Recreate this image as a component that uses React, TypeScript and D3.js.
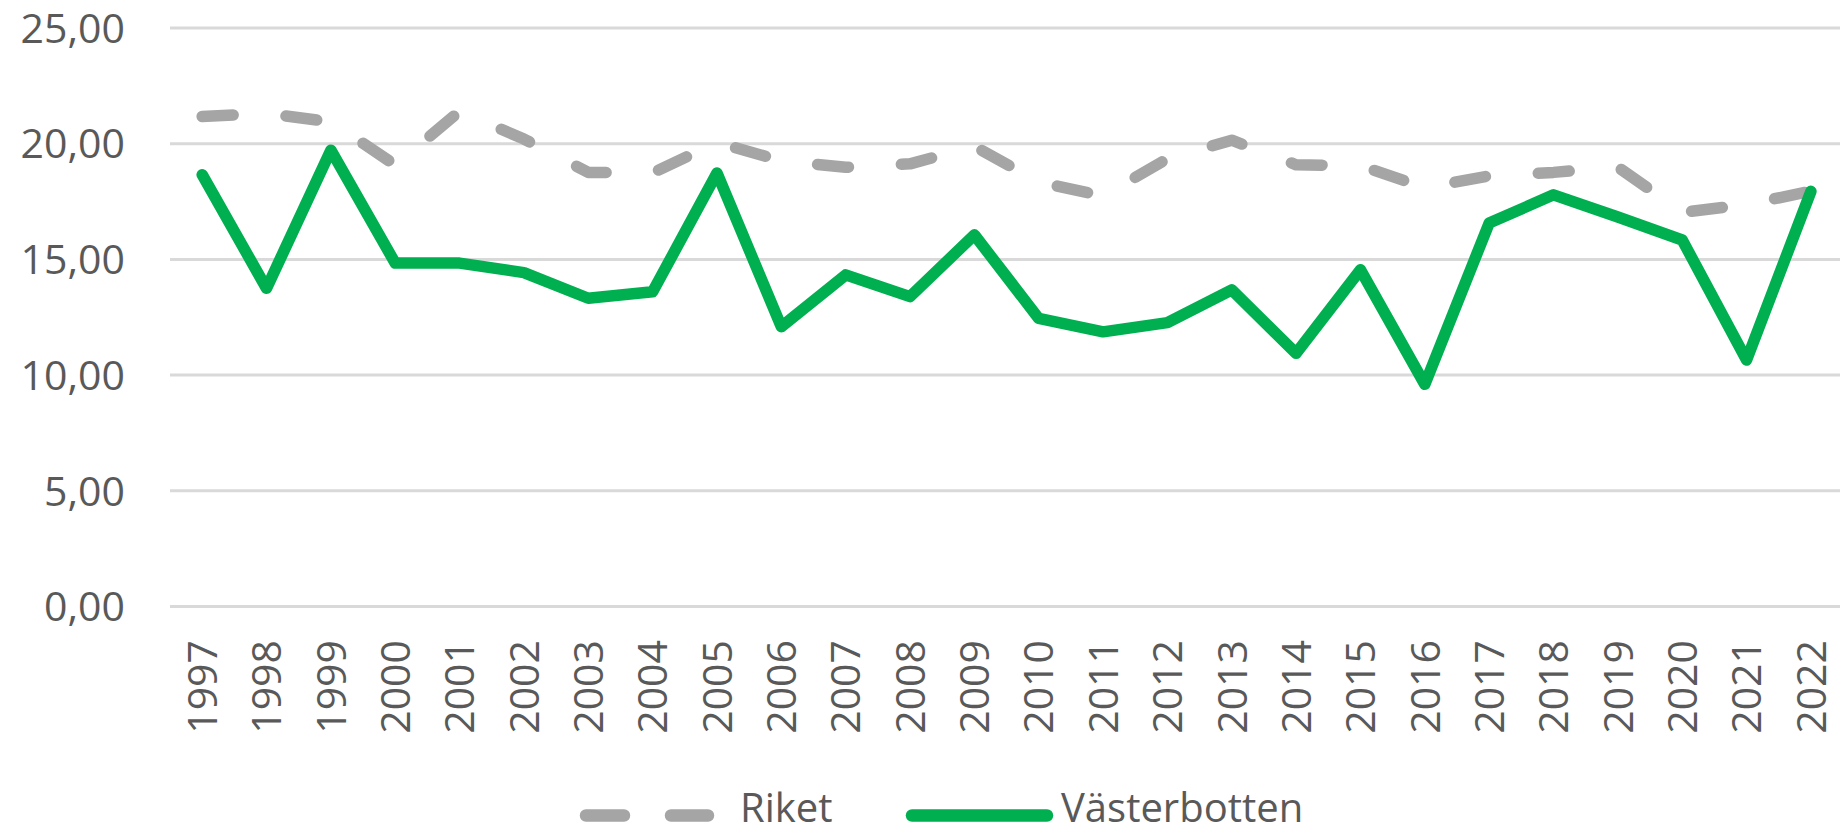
import React from "react";
import * as d3 from "d3";

const years = ["1997","1998","1999","2000","2001","2002","2003","2004","2005","2006","2007","2008","2009","2010","2011","2012","2013","2014","2015","2016","2017","2018","2019","2020","2021","2022"];
const riket = [21.18,21.3,20.95,19.08,21.4,20.2,18.76,18.74,20.05,19.26,18.98,19.13,19.89,18.34,17.74,19.35,20.15,19.09,19.05,18.1,18.61,18.76,18.99,17.03,17.37,17.95];
const vasterbotten = [18.66,13.75,19.72,14.84,14.84,14.43,13.32,13.6,18.73,12.09,14.33,13.39,16.06,12.45,11.87,12.27,13.68,10.94,14.55,9.6,16.57,17.79,16.83,15.84,10.65,17.94];
const yTicks = [0, 5, 10, 15, 20, 25];
const seriesNames = ["Riket", "Västerbotten"];

const W = 1840;
const H = 833;
const FONT = "'Open Sans', 'Noto Sans', sans-serif";
const TEXT = "#595959";
const GRAY = "#a5a5a5";
const GREEN = "#00b050";

const locale = d3.formatLocale({ decimal: ",", thousands: " ", grouping: [3], currency: ["", " kr"] });
const fmt = locale.format(".2f");

export default function App() {
  const plotLeft = 170;
  const step = 64.35;
  const x = d3.scaleBand<string>().domain(years).range([plotLeft, plotLeft + step * years.length]).padding(0);
  const y = d3.scaleLinear().domain([0, 25]).range([606.5, 28]);
  const cx = (yr: string) => (x(yr) as number) + x.bandwidth() / 2;

  const line = d3.line<number>()
    .x((_, i) => cx(years[i]))
    .y((v) => y(v));

  return (
    <svg width={W} height={H} style={{ position: "absolute", left: 0, top: 0, background: "#fff" }} fontFamily={FONT}>
      <rect x={0} y={0} width={W} height={H} fill="#ffffff" />
      {yTicks.map((t) => (
        <g key={t}>
          <line x1={plotLeft} x2={W} y1={y(t)} y2={y(t)} stroke="#d9d9d9" strokeWidth={3} />
          <text x={125} y={y(t)} dy="0.36em" textAnchor="end" fontSize={41} fill={TEXT}>{fmt(t)}</text>
        </g>
      ))}
      {years.map((yr) => (
        <text key={yr} transform={`translate(${cx(yr)},640) rotate(-90)`} dy="0.36em" textAnchor="end" fontSize={41} fill={TEXT}>{yr}</text>
      ))}
      <path d={line(riket) || ""} fill="none" stroke={GRAY} strokeWidth={11.5} strokeDasharray="31 53" strokeLinecap="round" strokeLinejoin="round" />
      <path d={line(vasterbotten) || ""} fill="none" stroke={GREEN} strokeWidth={11.5} strokeLinecap="round" strokeLinejoin="round" />
      <g>
        <line x1={586} x2={708} y1={815.5} y2={815.5} stroke={GRAY} strokeWidth={12.5} strokeDasharray="38 47" strokeLinecap="round" />
        <text x={740} y={822} fontSize={40} fill={TEXT}>{seriesNames[0]}</text>
        <line x1={912} x2={1047} y1={815.5} y2={815.5} stroke={GREEN} strokeWidth={12.5} strokeLinecap="round" />
        <text x={1061} y={822} fontSize={40} fill={TEXT}>{seriesNames[1]}</text>
      </g>
    </svg>
  );
}
